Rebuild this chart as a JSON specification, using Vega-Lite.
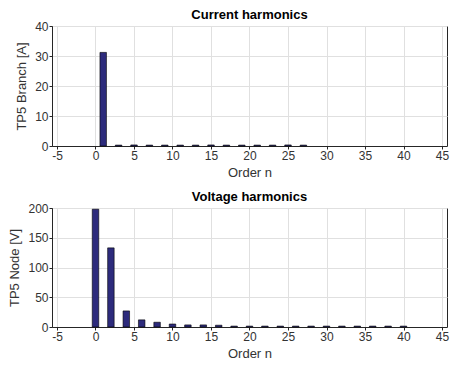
{
  "$schema": "https://vega.github.io/schema/vega-lite/v6.json",
  "padding": {"left": 8, "top": 8, "right": 8, "bottom": 0},
  "background": "white",
  "config": {
    "font": "Liberation Sans",
    "view": {"stroke": "#262626", "strokeWidth": 1},
    "axis": {
      "labelFont": "Liberation Sans", "titleFont": "Liberation Sans",
      "labelFontSize": 12, "titleFontSize": 13, "labelColor": "#333333", "titleColor": "#333333",
      "titleFontWeight": "normal", "gridColor": "#e0e0e0", "domainColor": "#262626",
      "tickColor": "#262626", "tickSize": 3, "labelPadding": 1,
      "labelExpr": "replace(datum.label, '−', '-')"
    },
    "title": {"font": "Liberation Sans", "fontSize": 13, "fontWeight": "bold", "color": "#000000", "offset": -2}
  },
  "vconcat": [
    {
      "title": "Current harmonics",
      "width": 395, "height": 120,
      "data": {"values": [
        {"n": 1, "v": 31.2}, {"n": 3, "v": 0.3}, {"n": 5, "v": 0.35}, {"n": 7, "v": 0.3},
        {"n": 9, "v": 0.3}, {"n": 11, "v": 0.3}, {"n": 13, "v": 0.3}, {"n": 15, "v": 0.35},
        {"n": 17, "v": 0.3}, {"n": 19, "v": 0.3}, {"n": 21, "v": 0.3}, {"n": 23, "v": 0.3},
        {"n": 25, "v": 0.35}, {"n": 27, "v": 0.3}
      ]},
      "mark": {"type": "bar", "width": 6.5, "color": "#2d2b7c", "stroke": "#000000", "strokeWidth": 0.6},
      "encoding": {
        "x": {"field": "n", "type": "quantitative", "scale": {"domain": [-5, 45], "nice": false},
              "axis": {"values": [-5,0,5,10,15,20,25,30,35,40,45], "title": "Order n", "titlePadding": 5}},
        "y": {"field": "v", "type": "quantitative", "scale": {"domain": [0, 40], "nice": false},
              "axis": {"values": [0,10,20,30,40], "title": "TP5 Branch [A]", "titlePadding": 6}}
      }
    },
    {
      "title": "Voltage harmonics",
      "width": 395, "height": 119,
      "data": {"values": [
        {"n": 0, "v": 198}, {"n": 2, "v": 133}, {"n": 4, "v": 27}, {"n": 6, "v": 12},
        {"n": 8, "v": 8}, {"n": 10, "v": 5}, {"n": 12, "v": 3.5}, {"n": 14, "v": 3.5},
        {"n": 16, "v": 3}, {"n": 18, "v": 1.5}, {"n": 20, "v": 1.5}, {"n": 22, "v": 1.5},
        {"n": 24, "v": 1.5}, {"n": 26, "v": 1.5}, {"n": 28, "v": 1.5}, {"n": 30, "v": 1.5},
        {"n": 32, "v": 1.5}, {"n": 34, "v": 1.5}, {"n": 36, "v": 1.5}, {"n": 38, "v": 1.5},
        {"n": 40, "v": 1.5}
      ]},
      "mark": {"type": "bar", "width": 6.5, "color": "#2d2b7c", "stroke": "#000000", "strokeWidth": 0.6},
      "encoding": {
        "x": {"field": "n", "type": "quantitative", "scale": {"domain": [-5, 45], "nice": false},
              "axis": {"values": [-5,0,5,10,15,20,25,30,35,40,45], "title": "Order n", "titlePadding": 5}},
        "y": {"field": "v", "type": "quantitative", "scale": {"domain": [0, 200], "nice": false},
              "axis": {"values": [0,50,100,150,200], "title": "TP5 Node [V]", "titlePadding": 6}}
      }
    }
  ],
  "spacing": 10
}
